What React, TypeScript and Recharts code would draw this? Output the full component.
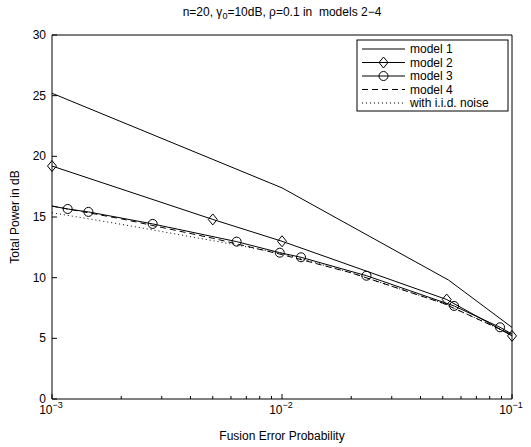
import React from 'react';
import { LineChart, Line, XAxis, YAxis } from 'recharts';

const xTicks = [
  0.001, 0.002, 0.003, 0.004, 0.005, 0.006, 0.007, 0.008, 0.009,
  0.01, 0.02, 0.03, 0.04, 0.05, 0.06, 0.07, 0.08, 0.09, 0.1,
];
const yTicks = [0, 5, 10, 15, 20, 25, 30];

const model1X = [0.001, 0.01, 0.053, 0.1];
const model1Y = [25.2, 17.4, 9.8, 5.9];

const model2X = [0.001, 0.005, 0.01, 0.052, 0.1];
const model2Y = [19.2, 14.8, 13.0, 8.2, 5.2];

const model3X = [0.001, 0.00117, 0.00144, 0.00274, 0.00635, 0.00978, 0.0121, 0.0233, 0.056, 0.0887, 0.1];
const model3Y = [15.9, 15.66, 15.42, 14.43, 12.97, 12.06, 11.68, 10.16, 7.67, 5.91, 5.35];

const model4X = [0.001, 0.002, 0.005, 0.01, 0.02, 0.05, 0.1];
const model4Y = [15.9, 14.85, 13.25, 11.9, 10.4, 7.9, 5.3];

const iidX = [0.001, 0.002, 0.005, 0.01, 0.02, 0.05, 0.1];
const iidY = [15.35, 14.4, 13.05, 12.0, 10.4, 7.9, 5.3];

const legendLabels = ['model 1', 'model 2', 'model 3', 'model 4', 'with i.i.d. noise'];

const FONT = '"Liberation Sans", Arial, Helvetica, sans-serif';

const zip = (xs: number[], ys: number[]) => xs.map((x, i) => ({ x, y: ys[i] }));
const m1 = zip(model1X, model1Y);
const m2 = zip(model2X, model2Y);
const m3 = zip(model3X, model3Y);
const m4 = zip(model4X, model4Y);
const mi = zip(iidX, iidY);

const isDecade = (v: number) => Math.abs(Math.log10(v) - Math.round(Math.log10(v))) < 1e-9;

const BottomTick = (props: any) => {
  const { x, y, payload } = props;
  const v = payload.value;
  const major = isDecade(v);
  const exp = Math.round(Math.log10(v));
  return (
    <g>
      <line x1={x} y1={y} x2={x} y2={y - (major ? 5 : 3)} stroke="#000" strokeWidth={1} />
      {major && (
        <text x={x - 1} y={y + 15} textAnchor="middle" fontSize={12} fontFamily={FONT} fill="#000">
          10<tspan dy={-6} fontSize={9}>{'\u2212' + Math.abs(exp)}</tspan>
        </text>
      )}
    </g>
  );
};

const TopTick = (props: any) => {
  const { x, y, payload } = props;
  const major = isDecade(payload.value);
  return <line x1={x} y1={y} x2={x} y2={y + (major ? 5 : 3)} stroke="#000" strokeWidth={1} />;
};

const LeftTick = (props: any) => {
  const { x, y, payload } = props;
  return (
    <g>
      <line x1={x} y1={y} x2={x + 5} y2={y} stroke="#000" strokeWidth={1} />
      <text x={x - 6} y={y + 4} textAnchor="end" fontSize={12} fontFamily={FONT} fill="#000">
        {payload.value}
      </text>
    </g>
  );
};

const RightTick = (props: any) => {
  const { x, y } = props;
  return <line x1={x} y1={y} x2={x - 5} y2={y} stroke="#000" strokeWidth={1} />;
};

const Diamond = ({ cx, cy }: { cx: number; cy: number }) => (
  <path
    d={`M${cx},${cy - 5.5} L${cx + 4.5},${cy} L${cx},${cy + 5.5} L${cx - 4.5},${cy} Z`}
    fill="none"
    stroke="#000"
    strokeWidth={1}
  />
);

const Circ = ({ cx, cy }: { cx: number; cy: number }) => (
  <circle cx={cx} cy={cy} r={4.5} fill="none" stroke="#000" strokeWidth={1} />
);

const diamondDot = (props: any) => <Diamond key={`d${props.index}`} cx={props.cx} cy={props.cy} />;
const circleDot = (props: any) => {
  const n = model3X.length;
  if (props.index === 0 || props.index === n - 1) return <g key={`c${props.index}`} />;
  return <Circ key={`c${props.index}`} cx={props.cx} cy={props.cy} />;
};

const Legend = () => {
  const lx = 357, ly = 40, lw = 151, lh = 71;
  const rowY = (i: number) => ly + 9 + i * 13.5;
  const x1 = lx + 5, x2 = lx + 48, xm = (x1 + x2) / 2;
  return (
    <g>
      <rect x={lx} y={ly} width={lw} height={lh} fill="#fff" stroke="#000" strokeWidth={1} />
      {legendLabels.map((lab, i) => {
        const y = rowY(i);
        const dash = i === 3 ? '6 4' : i === 4 ? '1 3' : undefined;
        return (
          <g key={lab}>
            <line x1={x1} y1={y} x2={x2} y2={y} stroke="#000" strokeWidth={1} strokeDasharray={dash} />
            {i === 1 && <Diamond cx={xm} cy={y} />}
            {i === 2 && <Circ cx={xm} cy={y} />}
            <text x={x2 + 5} y={y + 4} fontSize={12} fontFamily={FONT} fill="#000">
              {lab}
            </text>
          </g>
        );
      })}
    </g>
  );
};

export default function App() {
  return (
    <div style={{ position: 'absolute', left: 0, top: 0, width: 531, height: 447, background: '#fff' }}>
      <LineChart width={531} height={447} margin={{ top: 0, right: 0, bottom: 0, left: 0 }}>
        <XAxis
          xAxisId="b"
          dataKey="x"
          type="number"
          scale="log"
          domain={[0.001, 0.1]}
          ticks={xTicks}
          interval={0}
          orientation="bottom"
          height={48}
          tickSize={0}
          tickMargin={0}
          tickLine={false}
          tick={<BottomTick />}
          axisLine={{ stroke: '#000', strokeWidth: 1 }}
        />
        <XAxis
          xAxisId="t"
          dataKey="x"
          type="number"
          scale="log"
          domain={[0.001, 0.1]}
          ticks={xTicks}
          interval={0}
          orientation="top"
          height={35}
          tickSize={0}
          tickMargin={0}
          tickLine={false}
          tick={<TopTick />}
          axisLine={{ stroke: '#000', strokeWidth: 1 }}
        />
        <YAxis
          yAxisId="l"
          type="number"
          domain={[0, 30]}
          ticks={yTicks}
          interval={0}
          orientation="left"
          width={52}
          tickSize={0}
          tickMargin={0}
          tickLine={false}
          tick={<LeftTick />}
          axisLine={{ stroke: '#000', strokeWidth: 1 }}
        />
        <YAxis
          yAxisId="r"
          type="number"
          domain={[0, 30]}
          ticks={yTicks}
          interval={0}
          orientation="right"
          width={19}
          tickSize={0}
          tickMargin={0}
          tickLine={false}
          tick={<RightTick />}
          axisLine={{ stroke: '#000', strokeWidth: 1 }}
        />
        <Line data={mi} xAxisId="b" yAxisId="l" dataKey="y" type="linear" stroke="#000" strokeWidth={1} strokeDasharray="1 3" dot={false} isAnimationActive={false} />
        <Line data={m4} xAxisId="b" yAxisId="l" dataKey="y" type="linear" stroke="#000" strokeWidth={1} strokeDasharray="6 4" dot={false} isAnimationActive={false} />
        <Line data={m3} xAxisId="b" yAxisId="l" dataKey="y" type="linear" stroke="#000" strokeWidth={1} dot={circleDot} isAnimationActive={false} />
        <Line data={m2} xAxisId="b" yAxisId="l" dataKey="y" type="linear" stroke="#000" strokeWidth={1} dot={diamondDot} isAnimationActive={false} />
        <Line data={m1} xAxisId="b" yAxisId="l" dataKey="y" type="linear" stroke="#000" strokeWidth={1} dot={false} isAnimationActive={false} />
      </LineChart>
      <svg width={531} height={447} style={{ position: 'absolute', left: 0, top: 0, pointerEvents: 'none' }}>
        <text x={282} y={16} textAnchor="middle" fontSize={12} fontFamily={FONT} fill="#000" style={{ whiteSpace: 'pre' }}>
          {'n=20, \u03b3'}
          <tspan dy={3} fontSize={9}>0</tspan>
          <tspan dy={-3}>{'=10dB, \u03c1=0.1 in \u00a0models 2\u22124'}</tspan>
        </text>
        <text x={282} y={440} textAnchor="middle" fontSize={12} fontFamily={FONT} fill="#000">
          Fusion Error Probability
        </text>
        <text
          x={0}
          y={0}
          transform="translate(19,217) rotate(-90)"
          textAnchor="middle"
          fontSize={12}
          fontFamily={FONT}
          fill="#000"
        >
          Total Power in dB
        </text>
        <Legend />
      </svg>
    </div>
  );
}
